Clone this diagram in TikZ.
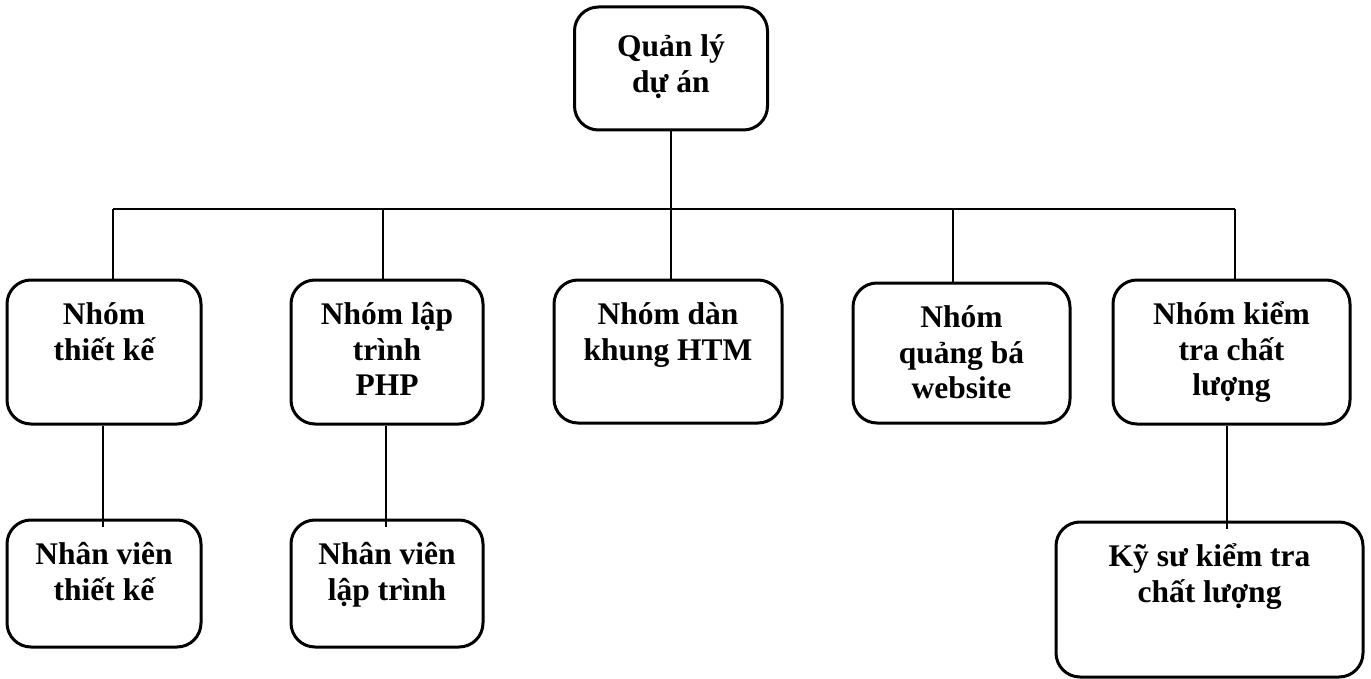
\documentclass[tikz,border=0pt]{standalone}
\usepackage{fontspec}
\setmainfont{Liberation Serif}
\newcommand{\lblfont}{\fontsize{31.5}{35.5}\selectfont\bfseries\lineskiplimit=-100pt\relax}
\newcommand{\fs}{\rule{0pt}{33pt}}
\tikzset{
  orgbox/.style={draw=black, line width=3pt, rounded corners=24pt, inner sep=0pt, fill=white},
  lbl/.style={inner sep=0pt, align=center, anchor=north, font=\lblfont},
  conn/.style={draw=black, line width=2.8pt}
}
\begin{document}
\begin{tikzpicture}[x=1pt,y=-1pt]
\useasboundingbox (0,0) rectangle (1371,679);
% boxes
\node[orgbox, minimum width=193pt, minimum height=123pt] (top) at (671,68.5) {};
\node[orgbox, minimum width=194pt, minimum height=144pt] (b1) at (104,352) {};
\node[orgbox, minimum width=192pt, minimum height=144pt] (b2) at (387,352) {};
\node[orgbox, minimum width=228pt, minimum height=143pt] (b3) at (668,351.5) {};
\node[orgbox, minimum width=217pt, minimum height=140pt] (b4) at (961.5,353) {};
\node[orgbox, minimum width=237pt, minimum height=144pt] (b5) at (1231.5,352) {};
\node[orgbox, minimum width=194pt, minimum height=127pt] (b6) at (104,583.5) {};
\node[orgbox, minimum width=192pt, minimum height=127pt] (b7) at (387,583.5) {};
\node[orgbox, minimum width=307pt, minimum height=155pt] (b8) at (1209.5,599.5) {};
% connectors
\coordinate (j1) at (113,209);
\coordinate (j2) at (383,209);
\coordinate (j4) at (953,209);
\coordinate (j5) at (1235,209);
\draw[conn] (j1) -- (j5);
\draw[conn] (top.south) -- (top.south |- b3.north);
\draw[conn] (j1) -- (j1 |- b1.north);
\draw[conn] (j2) -- (j2 |- b2.north);
\draw[conn] (j4) -- (j4 |- b4.north);
\draw[conn] (j5) -- (j5 |- b5.north);
\coordinate (b6in) at ([yshift=-8pt]b6.north);
\coordinate (b7in) at ([yshift=-8pt]b7.north);
\coordinate (b8in) at ([yshift=-8pt]b8.north);
\coordinate (k1) at ([xshift=-1pt]b1.south);
\coordinate (k2) at ([xshift=-1pt]b2.south);
\coordinate (k5) at ([xshift=-4.5pt]b5.south);
\draw[conn] (k1) -- (k1 |- b6in);
\draw[conn] (k2) -- (k2 |- b7in);
\draw[conn] (k5) -- (k5 |- b8in);
% labels
\node[lbl] (ttop) at ([yshift=-18pt]top.north) {\fs Quản lý\\dự án};
\node[lbl] (t1) at ([yshift=-13pt]b1.north) {\fs Nhóm\\thiết kế};
\node[lbl] (t2) at ([yshift=-13pt]b2.north) {\fs Nhóm lập\\trình\\PHP};
\node[lbl] (t3) at ([yshift=-13pt]b3.north) {\fs Nhóm dàn\\khung HTM};
\node[lbl] (t4) at ([yshift=-13pt]b4.north) {\fs Nhóm\\quảng bá\\website};
\node[lbl] (t5) at ([yshift=-13pt]b5.north) {\fs Nhóm kiểm\\tra chất\\lượng};
\node[lbl] (t6) at ([yshift=-13pt]b6.north) {\fs Nhân viên\\thiết kế};
\node[lbl] (t7) at ([yshift=-13pt]b7.north) {\fs Nhân viên\\lập trình};
\node[lbl] (t8) at ([yshift=-13pt]b8.north) {\fs Kỹ sư kiểm tra\\chất lượng};
\end{tikzpicture}
\end{document}
